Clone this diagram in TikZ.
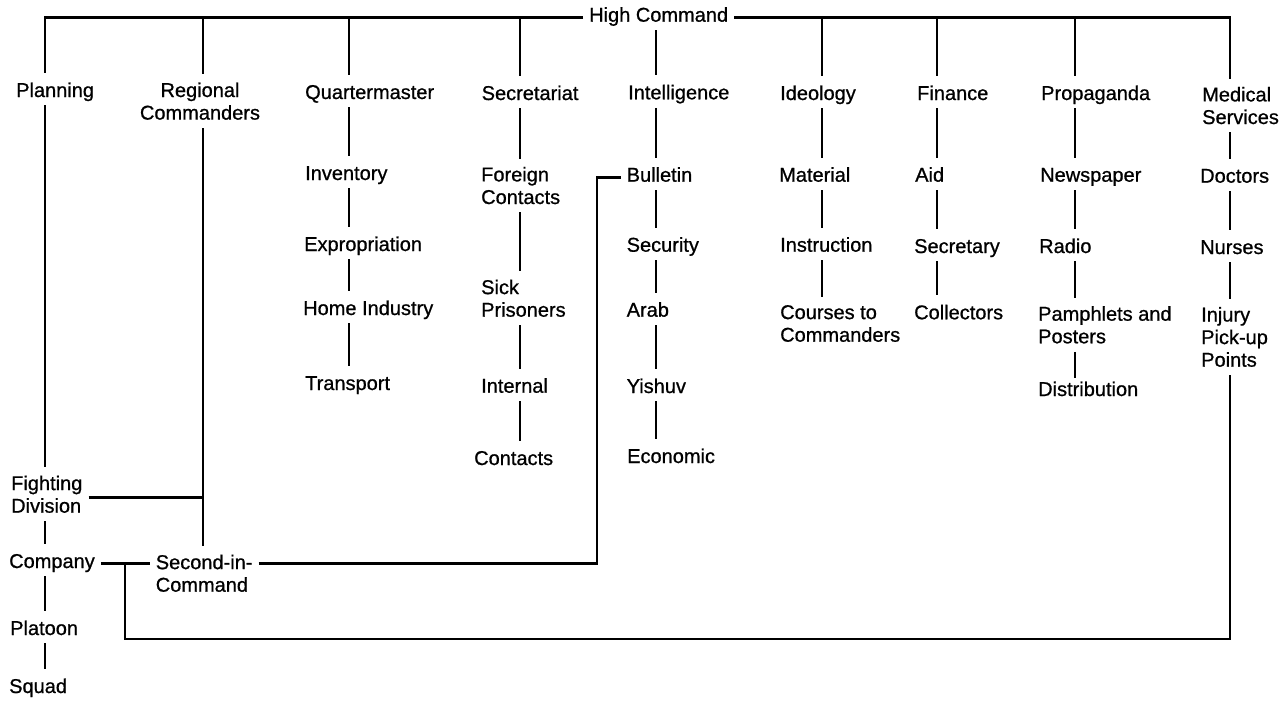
\documentclass[tikz,border=0pt]{standalone}
\usepackage{fontspec}
\setmainfont{Liberation Sans}[FakeBold=0.8]
\tikzset{
  unit/.style={anchor=base west, align=left, inner xsep=6pt, inner ysep=1.5pt,
    xshift=-6pt, font=\fontsize{20}{22.6}\selectfont,
    execute at begin node=\strut, execute at end node=\strut},
  bar/.style={line width=2.8pt},
  link/.style={bar, shorten >=6.5pt}
}
\begin{document}
\begin{tikzpicture}[x=1pt,y=-1pt]
\useasboundingbox (0,0) rectangle (1285,701);

\node[unit] (hc) at (589,21.7) {High Command};

\node[unit] (plan) at (16,97) {Planning};
\node[unit] (fight) at (11,512.7) {Fighting\\Division};
\node[unit] (comp) at (9,568) {Company};
\node[unit] (plat) at (10,635) {Platoon};
\node[unit] (squad) at (9,693) {Squad};

\node[unit, anchor=base, align=center] (reg) at (206,119.6) {Regional\\Commanders};
\node[unit] (snd) at (155.6,591.7) {Second-in-\\Command};

\node[unit] (qm) at (305,99) {Quartermaster};
\node[unit] (inv) at (305,180) {Inventory};
\node[unit] (exp) at (304,251) {Expropriation};
\node[unit] (home) at (303,315) {Home Industry};
\node[unit] (trans) at (305,390) {Transport};

\node[unit] (secr) at (481.5,100) {Secretariat};
\node[unit] (foreign) at (481,204) {Foreign\\Contacts};
\node[unit] (sick) at (481,316.7) {Sick\\Prisoners};
\node[unit] (intern) at (481,392.7) {Internal};
\node[unit] (cont) at (474,465) {Contacts};

\node[unit] (intel) at (628,99.3) {Intelligence};
\node[unit] (bull) at (626.5,181.7) {Bulletin};
\node[unit] (secu) at (626.5,251.7) {Security};
\node[unit] (arab) at (626.5,316.7) {Arab};
\node[unit] (yish) at (626.5,393) {Yishuv};
\node[unit] (econ) at (627,463) {Economic};

\node[unit] (ideo) at (780,100) {Ideology};
\node[unit] (mat) at (779,181.7) {Material};
\node[unit] (instr) at (780,251.7) {Instruction};
\node[unit] (course) at (780,341.7) {Courses to\\Commanders};

\node[unit] (fin) at (917,100) {Finance};
\node[unit] (aid) at (915,181.7) {Aid};
\node[unit] (secy) at (914,253) {Secretary};
\node[unit] (coll) at (914,319.3) {Collectors};

\node[unit] (prop) at (1041,100) {Propaganda};
\node[unit] (news) at (1040,181.7) {Newspaper};
\node[unit] (radio) at (1039,253) {Radio};
\node[unit] (pamph) at (1038,343.3) {Pamphlets and\\Posters};
\node[unit] (distr) at (1038,396) {Distribution};

\node[unit] (med) at (1202,124) {Medical\\Services};
\node[unit] (doc) at (1200,182.7) {Doctors};
\node[unit] (nurse) at (1200,254) {Nurses};
\node[unit] (inj) at (1201,366.7) {Injury\\Pick-up\\Points};

\coordinate (px) at (45,0);
\coordinate (rx) at (203,0);
\coordinate (qx) at (349,0);
\coordinate (sx) at (520,0);
\coordinate (ix) at (656,0);
\coordinate (dx) at (822,0);
\coordinate (fx) at (937,0);
\coordinate (gx) at (1075,0);
\coordinate (mx) at (1230,0);
\coordinate (bx) at (597,0);
\coordinate (lx) at (125,639);

\draw[link] (hc.west) -| (plan.north -| px);
\draw[link] (hc.east) -| (med.north -| mx);
\foreach \n/\c in {reg/rx,qm/qx,secr/sx,ideo/dx,fin/fx,prop/gx}
  \draw[link] (hc.west -| \c) -- (\n.north -| \c);
\draw[link] (hc.south -| ix) -- (intel.north -| ix);

\foreach \a/\b/\c in {plan/fight/px,fight/comp/px,comp/plat/px,plat/squad/px,
    reg/snd/rx,qm/inv/qx,inv/exp/qx,exp/home/qx,home/trans/qx,
    secr/foreign/sx,foreign/sick/sx,sick/intern/sx,intern/cont/sx,
    intel/bull/ix,bull/secu/ix,secu/arab/ix,arab/yish/ix,yish/econ/ix,
    ideo/mat/dx,mat/instr/dx,instr/course/dx,
    fin/aid/fx,aid/secy/fx,secy/coll/fx,
    prop/news/gx,news/radio/gx,radio/pamph/gx,
    med/doc/mx,doc/nurse/mx,nurse/inj/mx}
  \draw[link] (\a.south -| \c) -- (\b.north -| \c);
\draw[bar] (pamph.south -| gx) -- (distr.north -| gx);

\draw[bar] (fight.east) -- (fight.east -| rx);
\draw[bar] (comp.east) -- (comp.east -| snd.west);
\draw[bar] (comp.east -| snd.east) -| (bull.west -| bx) -- (bull.west);
\draw[bar] (inj.south -| mx) |- (lx) -- (lx |- comp.east);
\end{tikzpicture}
\end{document}
